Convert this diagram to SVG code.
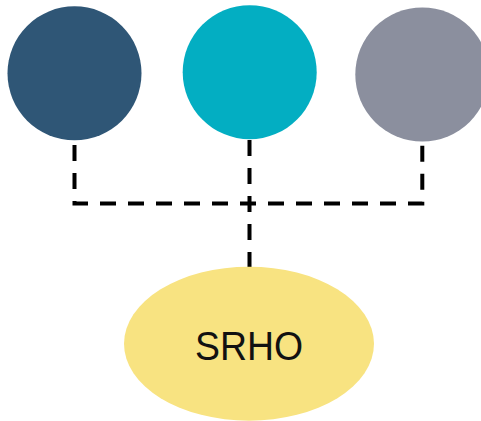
<svg xmlns="http://www.w3.org/2000/svg" width="481" height="421" viewBox="0 0 481 421">
<style>
.c{stroke:none}
.dash{fill:none;stroke:#000;stroke-width:4;stroke-dasharray:16 12}
.lbl{font-family:"Liberation Sans",Arial,sans-serif;font-size:41px;fill:#111}
</style>
<rect width="481" height="421" fill="#fff"/>
<g id="connectors">
<path class="dash" d="M74.5,145 V203.5 H422.3 V145"/>
<path class="dash" d="M249.5,140 V267"/>
</g>
<g id="node1"><circle class="c" cx="74.5" cy="73.3" r="67" fill="#2F5676"/></g>
<g id="node2"><circle class="c" cx="249.7" cy="72.2" r="67" fill="#03AEC2"/></g>
<g id="node3"><circle class="c" cx="422.3" cy="74.5" r="67" fill="#8B8F9E"/></g>
<g id="srho">
<ellipse cx="249" cy="343.7" rx="125" ry="77" fill="#F8E381"/>
<text class="lbl" x="249" y="360" text-anchor="middle" textLength="108" lengthAdjust="spacingAndGlyphs">SRHO</text>
</g>
</svg>
